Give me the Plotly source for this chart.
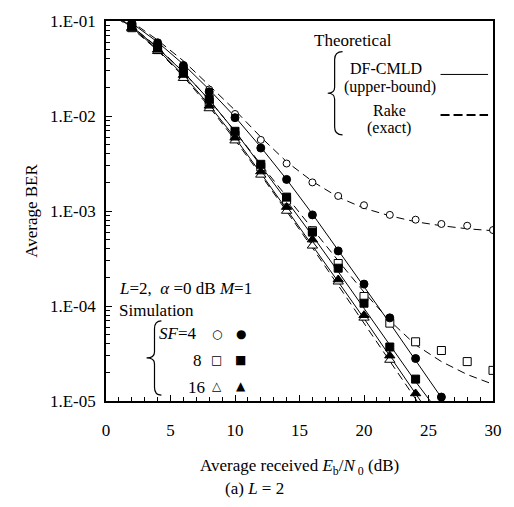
import plotly.graph_objects as go

# ---------------- data ----------------
snr_line = [0, 2, 4, 6, 8, 10, 12, 14, 16, 18, 20, 22, 24, 26, 28, 30]

# theoretical DF-CMLD (upper bound) - solid
cmld_sf4 = [0.14, 0.095, 0.060, 0.035, 0.019, 0.0098, 4.7e-3, 2.15e-3, 9.3e-4, 3.9e-4, 1.6e-4, 6.6e-5, 2.7e-5, 1.1e-5, 4.4e-6, None]
cmld_sf8 = [0.13, 0.088, 0.052, 0.029, 0.0148, 6.9e-3, 3.0e-3, 1.3e-3, 5.5e-4, 2.3e-4, 9.5e-5, 3.9e-5, 1.6e-5, 7.0e-6, None, None]
cmld_sf16 = [0.13, 0.086, 0.050, 0.027, 0.0130, 5.9e-3, 2.5e-3, 1.05e-3, 4.4e-4, 1.8e-4, 7.4e-5, 3.0e-5, 1.2e-5, 4.8e-6, None, None]

# theoretical Rake (exact) - dashed
rake_sf4 = [0.145, 0.098, 0.063, 0.038, 0.021, 0.0115, 6.0e-3, 3.3e-3, 2.05e-3, 1.4e-3, 1.07e-3, 8.9e-4, 7.7e-4, 7.0e-4, 6.5e-4, 6.2e-4]
rake_sf8 = [0.13, 0.088, 0.053, 0.029, 0.0148, 6.9e-3, 3.1e-3, 1.4e-3, 6.5e-4, 3.0e-4, 1.4e-4, 7.0e-5, 3.9e-5, 2.6e-5, 1.9e-5, 1.5e-5]
rake_sf16 = [0.128, 0.084, 0.049, 0.026, 0.0125, 5.6e-3, 2.4e-3, 1.0e-3, 4.1e-4, 1.65e-4, 6.6e-5, 2.6e-5, 1.05e-5, 4.2e-6, None, None]

snr_sim = [2, 4, 6, 8, 10, 12, 14, 16, 18, 20, 22, 24, 26, 28, 30]

# simulation, Rake (open markers)
sim_rake_sf4 = [0.093, 0.058, 0.034, 0.019, 0.0105, 5.6e-3, 3.16e-3, 2.0e-3, 1.44e-3, 1.15e-3, 9.1e-4, 8.1e-4, 7.3e-4, 7.0e-4, 6.3e-4]
sim_rake_sf8 = [0.085, 0.050, 0.027, 0.014, 6.3e-3, 2.9e-3, 1.3e-3, 6.2e-4, 2.8e-4, 1.26e-4, 6.6e-5, 4.2e-5, 3.4e-5, 2.6e-5, 2.1e-5]
sim_rake_sf16 = [0.083, 0.048, 0.025, 0.012, 5.5e-3, 2.4e-3, 1.0e-3, 4.3e-4, 1.8e-4, 7.5e-5, 2.7e-5, None, None, None, None]

# simulation, DF-CMLD (filled markers)
sim_cmld_sf4 = [0.095, 0.059, 0.034, 0.018, 0.0096, 4.6e-3, 2.15e-3, 9.1e-4, 3.8e-4, 1.7e-4, 7.5e-5, 2.8e-5, 1.1e-5, None, None]
sim_cmld_sf8 = [0.088, 0.052, 0.030, 0.015, 6.9e-3, 3.1e-3, 1.4e-3, 6.0e-4, 2.5e-4, 1.07e-4, 3.7e-5, 1.7e-5, None, None, None]
sim_cmld_sf16 = [0.085, 0.050, 0.027, 0.0128, 5.9e-3, 2.6e-3, 1.1e-3, 5.0e-4, 1.9e-4, 8.0e-5, 3.0e-5, 1.2e-5, None, None, None]

y_tickvals = [1e-5, 1e-4, 1e-3, 1e-2, 1e-1]
y_ticktext = ["1.E-05", "1.E-04", "1.E-03", "1.E-02", "1.E-01"]
x_tickvals = [0, 5, 10, 15, 20, 25, 30]
x_minor_ticks = list(range(0, 31))
y_minor_ticks = [m * 10.0 ** e for e in (-5, -4, -3, -2) for m in range(2, 10)]

# ---------------- figure ----------------
W, H = 514, 507
L, R, T, B = 106, 17, 17, 106
PW, PH = W - L - R, H - T - B


def px(x):
    return (x - L) / PW


def py(y):
    return (H - B - y) / PH


SERIF = "Liberation Serif, Times New Roman, serif"
fig = go.Figure()

line_style = dict(color="black", width=1)
for ys in (cmld_sf4, cmld_sf8, cmld_sf16):
    fig.add_trace(go.Scatter(x=snr_line, y=ys, mode="lines", line=line_style,
                             showlegend=False, hoverinfo="skip"))
for ys in (rake_sf4, rake_sf8, rake_sf16):
    fig.add_trace(go.Scatter(x=snr_line, y=ys, mode="lines",
                             line=dict(color="black", width=1, dash="8px,5px"),
                             showlegend=False, hoverinfo="skip"))

open_specs = [(sim_rake_sf4, "circle", 7), (sim_rake_sf8, "square", 8), (sim_rake_sf16, "triangle-up", 9)]
for ys, sym, sz in open_specs:
    fig.add_trace(go.Scatter(x=snr_sim, y=ys, mode="markers",
                             marker=dict(symbol=sym, size=sz, color="white",
                                         line=dict(color="black", width=1)),
                             showlegend=False))
filled_specs = [(sim_cmld_sf4, "circle", 8), (sim_cmld_sf8, "square", 8), (sim_cmld_sf16, "triangle-up", 9)]
for ys, sym, sz in filled_specs:
    fig.add_trace(go.Scatter(x=snr_sim, y=ys, mode="markers",
                             marker=dict(symbol=sym, size=sz, color="black",
                                         line=dict(color="black", width=1)),
                             showlegend=False))

fig.update_xaxes(range=[0, 30], tickmode="array", tickvals=x_tickvals, ticks="inside", ticklen=6,
                 tickwidth=1.2, tickcolor="black", showline=True, linecolor="black",
                 linewidth=1.8, mirror=True, showgrid=False, zeroline=False,
                 ticklabelstandoff=13,
                 minor=dict(ticks="inside", ticklen=4, tickwidth=1.2, tickmode="array",
                            tickvals=x_minor_ticks, tickcolor="black", showgrid=False),
                 tickfont=dict(family=SERIF, size=17, color="black"))
fig.update_yaxes(type="log", range=[-5, -1], tickmode="array", tickvals=y_tickvals, ticktext=y_ticktext,
                 ticks="inside", ticklen=6, tickwidth=1.2, tickcolor="black",
                 showline=True, linecolor="black", linewidth=1.8, mirror=True,
                 showgrid=False, zeroline=False, ticklabelstandoff=5,
                 minor=dict(ticks="inside", ticklen=4, tickwidth=1.2, tickmode="array",
                            tickvals=y_minor_ticks, tickcolor="black", showgrid=False),
                 tickfont=dict(family=SERIF, size=17, color="black"))

ann = []


def text(x, y, s, size=17, xanchor="center", family=SERIF, angle=0):
    ann.append(dict(x=px(x), y=py(y), xref="paper", yref="paper", text=s, showarrow=False,
                    xanchor=xanchor, yanchor="middle", textangle=angle,
                    font=dict(family=family, size=size, color="black")))


text(30, 209, "Average BER", angle=-90)
text(302, 468, "Average received <i>E</i><sub>b</sub>/<i>N</i><sub> 0</sub> (dB)")
text(256, 489, "(a) <i>L</i> = 2")

text(356, 37, "Theoretical")
text(389, 65, "DF-CMLD", size=16)
text(393, 84, "(upper-bound)", size=16)
text(392, 107, "Rake", size=16)
text(392, 125, "(exact)", size=16)

text(117, 287, "<i>L</i>=2,  <i>α</i> =0 dB <i>M</i>=1", xanchor="left")
text(117, 310, "Simulation", xanchor="left")
text(158, 333, "<i>SF</i>=4", xanchor="left")
text(205, 360, "8", xanchor="right")
text(208, 387, "16", xanchor="right")

GLY = "DejaVu Sans"
text(218, 333, "○", size=12, family=GLY)
text(242, 333, "●", size=12, family=GLY)
text(218, 360, "□", size=12, family=GLY)
text(242, 360, "■", size=12, family=GLY)
text(218, 386, "△", size=12, family=GLY)
text(242, 386, "▲", size=12, family=GLY)

fig.update_layout(annotations=ann)

shapes = []
# legend line samples
shapes.append(dict(type="line", xref="paper", yref="paper", x0=px(444), x1=px(492), y0=py(71), y1=py(71),
                   line=dict(color="black", width=1)))
shapes.append(dict(type="line", xref="paper", yref="paper", x0=px(444), x1=px(492), y0=py(112), y1=py(112),
                   line=dict(color="black", width=2.2, dash="9px,4px")))


def brace(xe, xm, xt, ytop, ybot):
    ym = (ytop + ybot) / 2
    pts = [
        f"M {px(xe)},{py(ytop)}",
        f"Q {px(xm)},{py(ytop)} {px(xm)},{py(ytop + 8)}",
        f"L {px(xm)},{py(ym - 6)}",
        f"Q {px(xm)},{py(ym)} {px(xt)},{py(ym)}",
        f"Q {px(xm)},{py(ym)} {px(xm)},{py(ym + 6)}",
        f"L {px(xm)},{py(ybot - 8)}",
        f"Q {px(xm)},{py(ybot)} {px(xe)},{py(ybot)}",
    ]
    return dict(type="path", xref="paper", yref="paper", path=" ".join(pts),
                line=dict(color="black", width=1.2))


shapes.append(brace(345, 337, 330, 48, 132))
shapes.append(brace(162, 155, 147, 320, 395))
fig.update_layout(shapes=shapes)

fig.update_layout(width=W, height=H, margin=dict(l=L, r=R, t=T, b=B),
                  paper_bgcolor="white", plot_bgcolor="white", showlegend=False)

fig.write_html("out.html")
